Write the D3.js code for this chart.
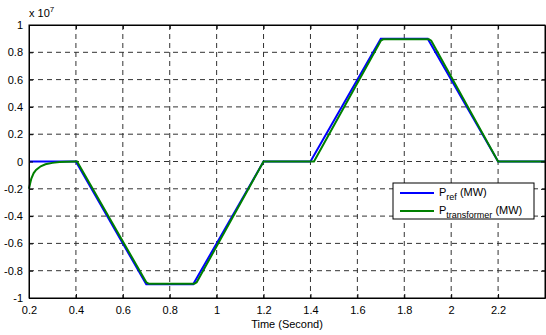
<!DOCTYPE html>
<html>
<head>
<meta charset="utf-8">
<script src="https://cdn.jsdelivr.net/npm/d3@7"></script>
<style>
  body { margin: 0; background: #fff; }
  text { font-family: "Liberation Sans", Arial, Helvetica, sans-serif; }
</style>
</head>
<body>
<div class="chart"></div>
<script>
var svgWidth = 546;
var svgHeight = 335;

var margin = { top: 25, right: 1, bottom: 37, left: 29 };
var width = svgWidth - margin.left - margin.right;
var height = svgHeight - margin.top - margin.bottom;

// reference power (units of 1e7)
var timeRef = [0.2, 0.4, 0.7, 0.9, 1.2, 1.4, 1.7, 1.9, 2.2, 2.4];
var pRef = [0, 0, -0.9, -0.9, 0, 0, 0.9, 0.9, 0, 0];

// transformer power (units of 1e7)
var timeTr = [0.2, 0.205, 0.21, 0.22, 0.23, 0.25, 0.27, 0.3, 0.33, 0.36, 0.4, 0.405,
  0.7, 0.71, 0.905, 0.915, 1.2, 1.21, 1.405, 1.415, 1.7, 1.71, 1.905, 1.915, 2.2, 2.21, 2.4];
var pTr = [-0.2, -0.16, -0.125, -0.085, -0.062, -0.035, -0.02, -0.01, -0.004, -0.001, 0, 0,
  -0.885, -0.895, -0.895, -0.885, 0, 0, 0, 0, 0.885, 0.895, 0.895, 0.885, 0, 0, 0];

var xTicks = [0.2, 0.4, 0.6, 0.8, 1, 1.2, 1.4, 1.6, 1.8, 2, 2.2];
var yTicks = [-1, -0.8, -0.6, -0.4, -0.2, 0, 0.2, 0.4, 0.6, 0.8, 1];

var svg = d3.select(".chart")
  .append("svg")
  .attr("width", svgWidth)
  .attr("height", svgHeight);

var chartGroup = svg.append("g")
  .attr("transform", `translate(${margin.left}, ${margin.top})`);

var x = d3.scaleLinear().domain([0.2, 2.4]).range([0, width]);
var y = d3.scaleLinear().domain([-1, 1]).range([height, 0]);

function fmt(d) {
  var s = String(+d.toFixed(1));
  return s === "-0" ? "0" : s;
}

// grid
chartGroup.append("g")
  .selectAll("line")
  .data(xTicks.filter(d => d > 0.2))
  .enter()
  .append("line")
  .attr("x1", d => x(d)).attr("x2", d => x(d))
  .attr("y1", 0).attr("y2", height)
  .attr("stroke", "#333")
  .attr("stroke-dasharray", "5,4");

chartGroup.append("g")
  .selectAll("line")
  .data(yTicks.filter(d => d > -1 && d < 1))
  .enter()
  .append("line")
  .attr("x1", 0).attr("x2", width)
  .attr("y1", d => y(d)).attr("y2", d => y(d))
  .attr("stroke", "#333")
  .attr("stroke-dasharray", "5,4");

// lines
var line = d3.line()
  .x(d => x(d[0]))
  .y(d => y(d[1]));

chartGroup.append("path")
  .datum(timeRef.map((t, i) => [t, pRef[i]]))
  .attr("d", line)
  .attr("fill", "none")
  .attr("stroke", "#0000ff")
  .attr("stroke-width", 2);

chartGroup.append("path")
  .datum(timeTr.map((t, i) => [t, pTr[i]]))
  .attr("d", line)
  .attr("fill", "none")
  .attr("stroke", "#008000")
  .attr("stroke-width", 2);

// axes (ticks point inward, as in MATLAB)
var bottomAxis = d3.axisBottom(x).tickValues(xTicks).tickFormat(fmt).tickSizeInner(-4).tickSizeOuter(0).tickPadding(8);
var topAxis = d3.axisTop(x).tickValues(xTicks).tickFormat("").tickSizeInner(-4).tickSizeOuter(0);
var leftAxis = d3.axisLeft(y).tickValues(yTicks).tickFormat(fmt).tickSizeInner(-4).tickSizeOuter(0).tickPadding(6);
var rightAxis = d3.axisRight(y).tickValues(yTicks).tickFormat("").tickSizeInner(-4).tickSizeOuter(0);

var axes = [
  chartGroup.append("g").attr("transform", `translate(0, ${height})`).call(bottomAxis),
  chartGroup.append("g").call(topAxis),
  chartGroup.append("g").call(leftAxis),
  chartGroup.append("g").attr("transform", `translate(${width}, 0)`).call(rightAxis)
];
axes.forEach(function(a) {
  a.selectAll("path, line").attr("stroke", "#000");
  a.selectAll("text").attr("fill", "#000").style("font-size", "11px");
});

chartGroup.append("rect")
  .attr("width", width)
  .attr("height", height)
  .attr("fill", "none")
  .attr("stroke", "#000");

// exponent label
var expo = chartGroup.append("text")
  .attr("x", 0)
  .attr("y", -8)
  .style("font-size", "11px")
  .text("x 10");
expo.append("tspan")
  .attr("dy", -5)
  .style("font-size", "8px")
  .text("7");

// x label
chartGroup.append("text")
  .attr("x", width / 2)
  .attr("y", height + 30)
  .attr("text-anchor", "middle")
  .style("font-size", "11px")
  .text("Time (Second)");

// legend
var legend = chartGroup.append("g")
  .attr("transform", `translate(${393 - margin.left}, ${183 - margin.top})`);

legend.append("rect")
  .attr("width", 141)
  .attr("height", 36)
  .attr("fill", "#fff")
  .attr("stroke", "#000");

var legendItems = [
  { color: "#0000ff", sub: "ref" },
  { color: "#008000", sub: "transformer" }
];

legendItems.forEach(function(item, i) {
  var ly = 10 + i * 18;
  legend.append("line")
    .attr("x1", 7).attr("x2", 41)
    .attr("y1", ly).attr("y2", ly)
    .attr("stroke", item.color)
    .attr("stroke-width", 2);
  var t = legend.append("text")
    .attr("x", 46)
    .attr("y", ly + 3)
    .style("font-size", "11px")
    .text("P");
  t.append("tspan")
    .attr("dy", 4)
    .style("font-size", "9px")
    .text(item.sub);
  t.append("tspan")
    .attr("dy", -4)
    .text(" (MW)");
});
</script>
</body>
</html>
